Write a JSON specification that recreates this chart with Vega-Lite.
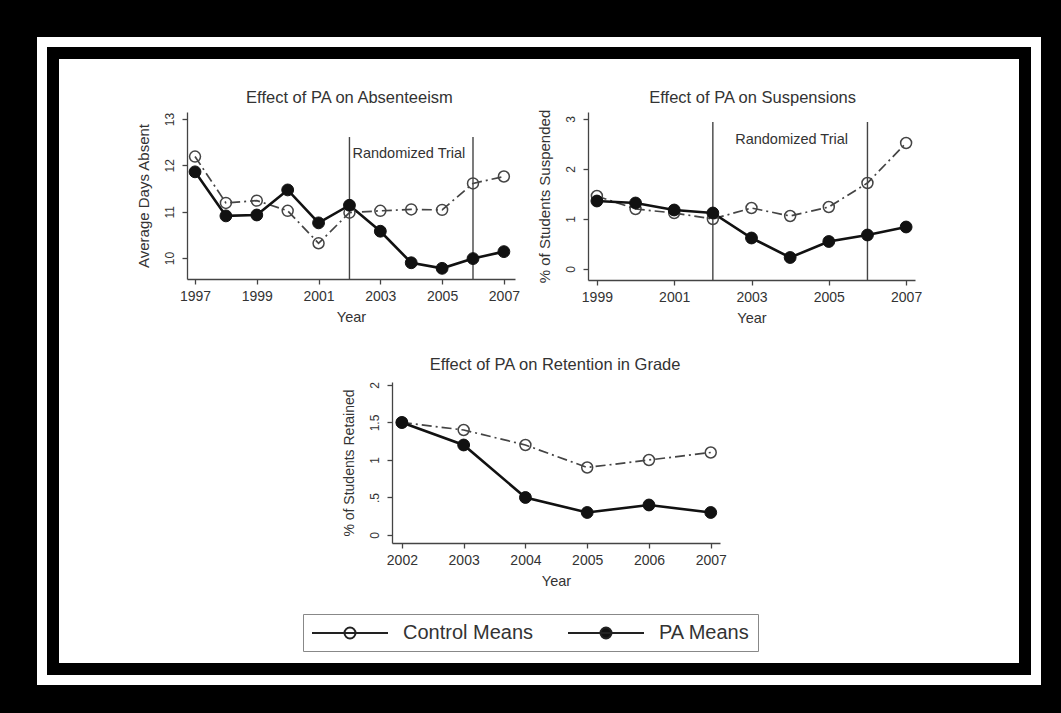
{
  "$schema": "https://vega.github.io/schema/vega-lite/v6.json",
  "width": 994,
  "height": 638,
  "autosize": {"type": "none"},
  "padding": {"left": 42, "top": 42, "right": 25, "bottom": 33},
  "background": "black",
  "config": {
    "font": "Liberation Sans",
    "view": {"fill": "white", "stroke": "black", "strokeWidth": 34},
    "axis": {
      "grid": false,
      "domainColor": "#444",
      "tickColor": "#444",
      "labelColor": "#333",
      "titleColor": "#333",
      "tickSize": 5,
      "domainWidth": 1.3,
      "tickWidth": 1.3,
      "titleFontWeight": "normal",
      "labelFontSize": 14,
      "titleFontSize": 15
    },
    "axisX": {"labelPadding": 5, "titlePadding": 7, "titleFontSize": 14.5},
    "axisY": {"labelAngle": -90, "labelAlign": "center", "labelBaseline": "bottom", "labelFontSize": 12, "labelPadding": 6, "titlePadding": 12}
  },
  "datasets": {
    "absent": [
      {"year": 1997, "group": "Control Means", "value": 12.19},
      {"year": 1998, "group": "Control Means", "value": 11.19},
      {"year": 1999, "group": "Control Means", "value": 11.24},
      {"year": 2000, "group": "Control Means", "value": 11.02},
      {"year": 2001, "group": "Control Means", "value": 10.32},
      {"year": 2002, "group": "Control Means", "value": 10.98},
      {"year": 2003, "group": "Control Means", "value": 11.02},
      {"year": 2004, "group": "Control Means", "value": 11.05},
      {"year": 2005, "group": "Control Means", "value": 11.04},
      {"year": 2006, "group": "Control Means", "value": 11.61},
      {"year": 2007, "group": "Control Means", "value": 11.76},
      {"year": 1997, "group": "PA Means", "value": 11.86},
      {"year": 1998, "group": "PA Means", "value": 10.91},
      {"year": 1999, "group": "PA Means", "value": 10.93},
      {"year": 2000, "group": "PA Means", "value": 11.47},
      {"year": 2001, "group": "PA Means", "value": 10.76},
      {"year": 2002, "group": "PA Means", "value": 11.14},
      {"year": 2003, "group": "PA Means", "value": 10.58},
      {"year": 2004, "group": "PA Means", "value": 9.9},
      {"year": 2005, "group": "PA Means", "value": 9.78},
      {"year": 2006, "group": "PA Means", "value": 9.99},
      {"year": 2007, "group": "PA Means", "value": 10.14}
    ],
    "susp": [
      {"year": 1999, "group": "Control Means", "value": 1.46},
      {"year": 2000, "group": "Control Means", "value": 1.2},
      {"year": 2001, "group": "Control Means", "value": 1.12},
      {"year": 2002, "group": "Control Means", "value": 1.0},
      {"year": 2003, "group": "Control Means", "value": 1.22},
      {"year": 2004, "group": "Control Means", "value": 1.06},
      {"year": 2005, "group": "Control Means", "value": 1.24},
      {"year": 2006, "group": "Control Means", "value": 1.72},
      {"year": 2007, "group": "Control Means", "value": 2.52},
      {"year": 1999, "group": "PA Means", "value": 1.36},
      {"year": 2000, "group": "PA Means", "value": 1.32},
      {"year": 2001, "group": "PA Means", "value": 1.18},
      {"year": 2002, "group": "PA Means", "value": 1.12},
      {"year": 2003, "group": "PA Means", "value": 0.62},
      {"year": 2004, "group": "PA Means", "value": 0.23},
      {"year": 2005, "group": "PA Means", "value": 0.55},
      {"year": 2006, "group": "PA Means", "value": 0.68},
      {"year": 2007, "group": "PA Means", "value": 0.84}
    ],
    "ret": [
      {"year": 2002, "group": "Control Means", "value": 1.5},
      {"year": 2003, "group": "Control Means", "value": 1.4},
      {"year": 2004, "group": "Control Means", "value": 1.2},
      {"year": 2005, "group": "Control Means", "value": 0.9},
      {"year": 2006, "group": "Control Means", "value": 1.0},
      {"year": 2007, "group": "Control Means", "value": 1.1},
      {"year": 2002, "group": "PA Means", "value": 1.5},
      {"year": 2003, "group": "PA Means", "value": 1.2},
      {"year": 2004, "group": "PA Means", "value": 0.5},
      {"year": 2005, "group": "PA Means", "value": 0.3},
      {"year": 2006, "group": "PA Means", "value": 0.4},
      {"year": 2007, "group": "PA Means", "value": 0.3}
    ],
    "trial": [
      {"panel": "absent", "year": 2002, "value": 9.55, "value2": 12.61},
      {"panel": "absent", "year": 2006, "value": 9.55, "value2": 12.61},
      {"panel": "susp", "year": 2002, "value": -0.22, "value2": 2.94},
      {"panel": "susp", "year": 2006, "value": -0.22, "value2": 2.94}
    ],
    "notes": [
      {"panel": "absent", "kind": "title", "year": 2002.0, "value": 13.46, "label": "Effect of PA on Absenteeism"},
      {"panel": "absent", "kind": "note", "year": 2002.0, "value": 12.25, "label": "Randomized Trial"},
      {"panel": "susp", "kind": "title", "year": 2003.03, "value": 3.42, "label": "Effect of PA on Suspensions"},
      {"panel": "susp", "kind": "note", "year": 2002.5, "value": 2.58, "label": "Randomized Trial"},
      {"panel": "ret", "kind": "title", "year": 2004.48, "value": 2.27, "label": "Effect of PA on Retention in Grade"}
    ]
  },
  "resolve": {"scale": {"x": "independent", "y": "independent"}},
  "layer": [
    {
      "data": {"values": [{"frame": 1}]},
      "mark": {"type": "rect", "fill": "transparent", "stroke": "white", "strokeWidth": 10},
      "encoding": {}
    },
    {
      "encoding": {
        "x": {"field": "year", "type": "quantitative",
          "scale": {"domain": [1996.74, 2007.36], "range": [145, 473], "nice": false, "zero": false},
          "axis": {"orient": "bottom", "values": [1997, 1999, 2001, 2003, 2005, 2007], "format": "d", "offset": -401, "title": "Year"}},
        "y": {"field": "value", "type": "quantitative",
          "scale": {"domain": [9.55, 13.15], "range": [237, 70], "nice": false, "zero": false},
          "axis": {"orient": "left", "values": [10, 11, 12, 13], "offset": -145, "title": "Average Days Absent"}}
      },
      "layer": [
        {"data": {"name": "trial"}, "transform": [{"filter": "datum.panel === 'absent'"}],
         "mark": {"type": "rule", "color": "#444", "strokeWidth": 1.4},
         "encoding": {"y2": {"field": "value2"}}},
        {"data": {"name": "absent"}, "transform": [{"filter": "datum.group === 'Control Means'"}],
         "mark": {"type": "line", "color": "#444", "strokeWidth": 1.7, "strokeDash": [10, 4, 2, 4]},
         "encoding": {}},
        {"data": {"name": "absent"}, "transform": [{"filter": "datum.group === 'PA Means'"}],
         "mark": {"type": "line", "color": "#111", "strokeWidth": 2.6},
         "encoding": {}},
        {"data": {"name": "absent"}, "transform": [{"filter": "datum.group === 'Control Means'"}],
         "mark": {"type": "circle", "size": 120, "stroke": "#444", "strokeWidth": 1.5, "opacity": 1},
         "encoding": {"fill": {"field": "group", "type": "nominal",
           "scale": {"domain": ["Control Means", "PA Means"], "range": ["transparent", "#111"]},
           "legend": {
             "orient": "none", "legendX": 261, "legendY": 572, "direction": "horizontal", "title": null,
             "symbolSize": 400, "symbolOffset": 28, "labelOffset": 42, "columnPadding": 30,
             "symbolType": "M-3.8,0L3.8,0M-0.55,0A0.55,0.55,0,1,1,0.55,0A0.55,0.55,0,1,1,-0.55,0Z",
             "symbolStrokeColor": "#222", "symbolStrokeWidth": 2,
             "padding": 8, "strokeColor": "#888", "fillColor": "white",
             "labelFontSize": 20, "labelColor": "#333", "labelFont": "Liberation Sans",
             "encode": {"symbols": {"update": {
               "stroke": {"value": "#222"},
               "strokeWidth": {"value": 2},
               "opacity": {"value": 1}
             }}}
           }}}},
        {"data": {"name": "absent"}, "transform": [{"filter": "datum.group === 'PA Means'"}],
         "mark": {"type": "circle", "size": 140, "stroke": "#111", "strokeWidth": 1, "opacity": 1},
         "encoding": {"fill": {"field": "group", "type": "nominal"}}},
        {"data": {"name": "notes"}, "transform": [{"filter": "datum.panel === 'absent' && datum.kind === 'title'"}],
         "mark": {"type": "text", "fontSize": 16.5, "color": "#333", "baseline": "middle"},
         "encoding": {"text": {"field": "label"}}},
        {"data": {"name": "notes"}, "transform": [{"filter": "datum.panel === 'absent' && datum.kind === 'note'"}],
         "mark": {"type": "text", "fontSize": 14.5, "color": "#333", "align": "left", "dx": 3, "baseline": "middle"},
         "encoding": {"text": {"field": "label"}}}
      ]
    },
    {
      "encoding": {
        "x": {"field": "year", "type": "quantitative",
          "scale": {"domain": [1998.77, 2007.23], "range": [546, 873], "nice": false, "zero": false},
          "axis": {"orient": "bottom", "values": [1999, 2001, 2003, 2005, 2007], "format": "d", "offset": -400, "title": "Year"}},
        "y": {"field": "value", "type": "quantitative",
          "scale": {"domain": [-0.22, 3.14], "range": [238, 70], "nice": false, "zero": false},
          "axis": {"orient": "left", "values": [0, 1, 2, 3], "offset": -546, "title": "% of Students Suspended"}}
      },
      "layer": [
        {"data": {"name": "trial"}, "transform": [{"filter": "datum.panel === 'susp'"}],
         "mark": {"type": "rule", "color": "#444", "strokeWidth": 1.4},
         "encoding": {"y2": {"field": "value2"}}},
        {"data": {"name": "susp"}, "transform": [{"filter": "datum.group === 'Control Means'"}],
         "mark": {"type": "line", "color": "#444", "strokeWidth": 1.7, "strokeDash": [10, 4, 2, 4]},
         "encoding": {}},
        {"data": {"name": "susp"}, "transform": [{"filter": "datum.group === 'PA Means'"}],
         "mark": {"type": "line", "color": "#111", "strokeWidth": 2.6},
         "encoding": {}},
        {"data": {"name": "susp"}, "transform": [{"filter": "datum.group === 'Control Means'"}],
         "mark": {"type": "circle", "size": 120, "stroke": "#444", "strokeWidth": 1.5, "opacity": 1},
         "encoding": {"fill": {"field": "group", "type": "nominal"}}},
        {"data": {"name": "susp"}, "transform": [{"filter": "datum.group === 'PA Means'"}],
         "mark": {"type": "circle", "size": 140, "stroke": "#111", "strokeWidth": 1, "opacity": 1},
         "encoding": {"fill": {"field": "group", "type": "nominal"}}},
        {"data": {"name": "notes"}, "transform": [{"filter": "datum.panel === 'susp' && datum.kind === 'title'"}],
         "mark": {"type": "text", "fontSize": 16.5, "color": "#333", "baseline": "middle"},
         "encoding": {"text": {"field": "label"}}},
        {"data": {"name": "notes"}, "transform": [{"filter": "datum.panel === 'susp' && datum.kind === 'note'"}],
         "mark": {"type": "text", "fontSize": 14.5, "color": "#333", "align": "left", "dx": 3, "baseline": "middle"},
         "encoding": {"text": {"field": "label"}}}
      ]
    },
    {
      "encoding": {
        "x": {"field": "year", "type": "quantitative",
          "scale": {"domain": [2001.84, 2007.15], "range": [350, 678], "nice": false, "zero": false},
          "axis": {"orient": "bottom", "values": [2002, 2003, 2004, 2005, 2006, 2007], "format": "d", "offset": -137, "title": "Year"}},
        "y": {"field": "value", "type": "quantitative",
          "scale": {"domain": [-0.107, 2.04], "range": [501, 340], "nice": false, "zero": false},
          "axis": {"orient": "left", "values": [0, 0.5, 1, 1.5, 2], "format": ".1~f", "labelExpr": "datum.value == 0.5 ? '.5' : datum.label", "offset": -350, "title": "% of Students Retained", "titleFontSize": 14}}
      },
      "layer": [
        {"data": {"name": "ret"}, "transform": [{"filter": "datum.group === 'Control Means'"}],
         "mark": {"type": "line", "color": "#444", "strokeWidth": 1.7, "strokeDash": [10, 4, 2, 4]},
         "encoding": {}},
        {"data": {"name": "ret"}, "transform": [{"filter": "datum.group === 'PA Means'"}],
         "mark": {"type": "line", "color": "#111", "strokeWidth": 2.6},
         "encoding": {}},
        {"data": {"name": "ret"}, "transform": [{"filter": "datum.group === 'Control Means'"}],
         "mark": {"type": "circle", "size": 120, "stroke": "#444", "strokeWidth": 1.5, "opacity": 1},
         "encoding": {"fill": {"field": "group", "type": "nominal"}}},
        {"data": {"name": "ret"}, "transform": [{"filter": "datum.group === 'PA Means'"}],
         "mark": {"type": "circle", "size": 140, "stroke": "#111", "strokeWidth": 1, "opacity": 1},
         "encoding": {"fill": {"field": "group", "type": "nominal"}}},
        {"data": {"name": "notes"}, "transform": [{"filter": "datum.panel === 'ret' && datum.kind === 'title'"}],
         "mark": {"type": "text", "fontSize": 16.5, "color": "#333", "baseline": "middle"},
         "encoding": {"text": {"field": "label"}}}
      ]
    }
  ]
}
